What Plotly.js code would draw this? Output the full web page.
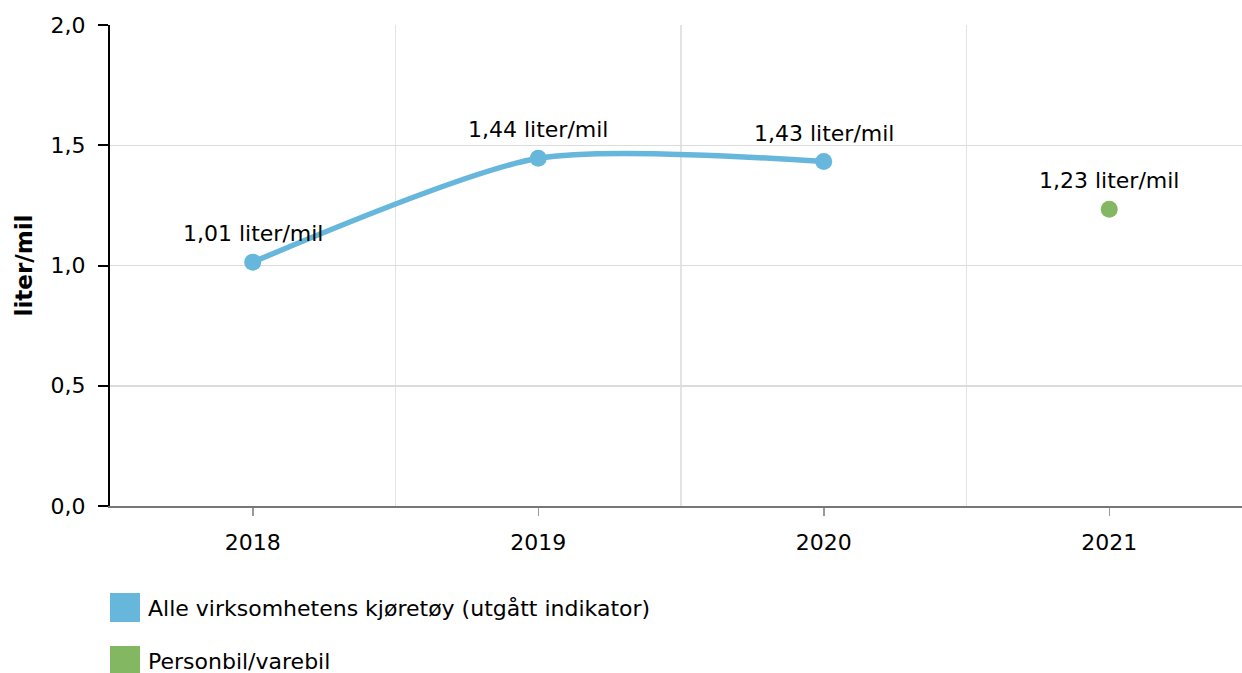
<!DOCTYPE html>
<html>
<head>
<meta charset="utf-8">
<script src="https://cdn.plot.ly/plotly-3.0.1.min.js"></script>
<style>html,body{margin:0;padding:0;background:#fff;}#chart{width:1242px;height:673px;}</style>
</head>
<body>
<div id="chart"></div>
<script>
// Data
const yearsA = [2018, 2019, 2020];
const valuesA = [1.014, 1.446, 1.432];
const labelsA = ["1,01 liter/mil", "1,44 liter/mil", "1,43 liter/mil"];
const yearsB = [2021];
const valuesB = [1.234];
const labelsB = ["1,23 liter/mil"];
const seriesNames = ["Alle virksomhetens kjøretøy (utgått indikator)", "Personbil/varebil"];
const seriesColors = ["#67b7dc", "#84b761"];
const xTicks = [2018, 2019, 2020, 2021];
const xGrid = [2018.5, 2019.5, 2020.5];
const yTitle = "liter/mil";

const FONT = "DejaVu Sans, Verdana, sans-serif";
const FS = 22;

const traces = [
  {
    x: yearsA, y: valuesA, type: "scatter", mode: "lines+markers",
    name: seriesNames[0],
    line: {color: seriesColors[0], width: 5.5, shape: "spline", smoothing: 0.7},
    marker: {color: seriesColors[0], size: 17},
    hoverinfo: "none", cliponaxis: false
  },
  {
    x: yearsB, y: valuesB, type: "scatter", mode: "markers",
    name: seriesNames[1],
    marker: {color: seriesColors[1], size: 17},
    hoverinfo: "none", cliponaxis: false
  }
];

const annotations = [];
function addLabels(xs, ys, ls) {
  xs.forEach((x, i) => annotations.push({
    x: x, y: ys[i], xref: "x", yref: "y", text: ls[i], showarrow: false,
    yanchor: "bottom", yshift: 14, font: {family: FONT, size: FS, color: "#000"}
  }));
}
addLabels(yearsA, valuesA, labelsA);
addLabels(yearsB, valuesB, labelsB);

// Custom legend (square patches)
const shapes = [];
const plotW = 1242 - 110, plotH = 673 - 25 - 167;
seriesNames.forEach((n, i) => {
  const top = 593 + i * 53, bot = top + 29;
  shapes.push({
    type: "rect", xref: "paper", yref: "paper",
    x0: 0, x1: 30 / plotW,
    y0: (506 - bot) / plotH, y1: (506 - top) / plotH,
    fillcolor: seriesColors[i], line: {width: 0}
  });
  annotations.push({
    xref: "paper", yref: "paper", x: 36 / plotW, y: (506 - (top + 15)) / plotH,
    xanchor: "left", yanchor: "middle", showarrow: false, text: n,
    font: {family: FONT, size: FS, color: "#000"}
  });
});

const layout = {
  width: 1242, height: 673,
  margin: {l: 110, r: 0, t: 25, b: 167},
  paper_bgcolor: "#fff", plot_bgcolor: "#fff",
  separators: ", ",
  showlegend: false,
  font: {family: FONT, size: FS, color: "#000"},
  xaxis: {
    range: [2017.5, 2017.5 + 1132 / 285.5],
    tickmode: "array", tickvals: xTicks, ticktext: xTicks.map(String),
    showgrid: false, zeroline: false,
    showline: true, linecolor: "#777", linewidth: 2,
    ticks: "outside", ticklen: 8, tickcolor: "#999", tickwidth: 1.5,
    ticklabelstandoff: 8,
    tickfont: {family: FONT, size: FS, color: "#000"},
    minor: {tickmode: "array", tickvals: xGrid, showgrid: true, gridcolor: "#e3e3e3", gridwidth: 1.5, ticks: ""},
    fixedrange: true
  },
  yaxis: {
    range: [0, 2], tickmode: "linear", tick0: 0, dtick: 0.5, tickformat: ".1f",
    showgrid: true, gridcolor: "#dcdcdc", gridwidth: 1.5, zeroline: false,
    showline: true, linecolor: "#000", linewidth: 2,
    ticks: "outside", ticklen: 10, tickcolor: "#000", tickwidth: 2,
    ticklabelstandoff: 8,
    tickfont: {family: FONT, size: FS, color: "#000"},
    title: {text: yTitle, font: {family: FONT, size: 23, color: "#000", weight: "bold"}, standoff: 12},
    fixedrange: true
  },
  shapes: shapes,
  annotations: annotations
};

Plotly.newPlot("chart", traces, layout, {staticPlot: true, displayModeBar: false});
</script>
</body>
</html>
